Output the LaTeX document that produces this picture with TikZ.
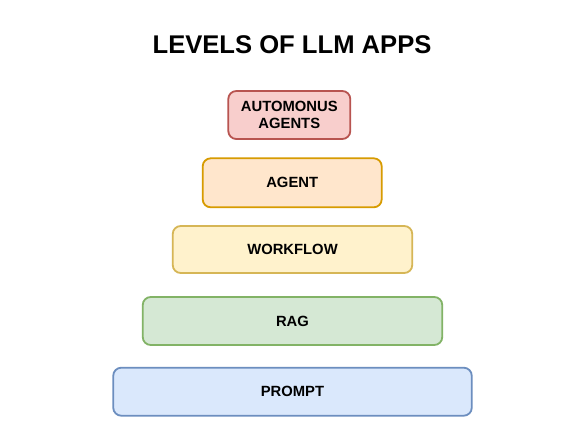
\documentclass[tikz,border=0pt]{standalone}
\usepackage{fontspec}
\setmainfont{Liberation Sans}
\usetikzlibrary{positioning}
\definecolor{redfill}{HTML}{F8CECC}
\definecolor{redline}{HTML}{B85450}
\definecolor{orangefill}{HTML}{FFE6CC}
\definecolor{orangeline}{HTML}{D79B00}
\definecolor{yellowfill}{HTML}{FFF2CC}
\definecolor{yellowline}{HTML}{D6B656}
\definecolor{greenfill}{HTML}{D5E8D4}
\definecolor{greenline}{HTML}{82B366}
\definecolor{bluefill}{HTML}{DAE8FC}
\definecolor{blueline}{HTML}{6C8EBF}
\begin{document}
\begin{tikzpicture}[x=1pt,y=-1pt,
    level/.style={line width=1.8pt,rounded corners=8pt,minimum height=48pt,
                  inner sep=2pt,align=center,
                  font=\fontsize{14.8}{17}\selectfont\bfseries}]
  \useasboundingbox[fill=white] (0,0) rectangle (577,440);
  \node[font=\fontsize{25.6}{30}\selectfont\bfseries] (title) at (292,45) {LEVELS OF LLM APPS};
  \node[level,draw=redline,fill=redfill,minimum width=122pt] (auto) at (289.3,115) {AUTOMONUS\\AGENTS};
  \node[level,draw=orangeline,fill=orangefill,minimum width=179pt,minimum height=49pt] (agent) at (292.2,182.8) {AGENT};
  \node[level,draw=yellowline,fill=yellowfill,minimum width=239.5pt,minimum height=47pt] (workflow) at (292.5,249.5) {WORKFLOW};
  \node[level,draw=greenline,fill=greenfill,minimum width=299.5pt] (rag) at (292.5,321) {RAG};
  \node[level,draw=blueline,fill=bluefill,minimum width=358.5pt] (prompt) at (292.5,391.7) {PROMPT};
\end{tikzpicture}
\end{document}
